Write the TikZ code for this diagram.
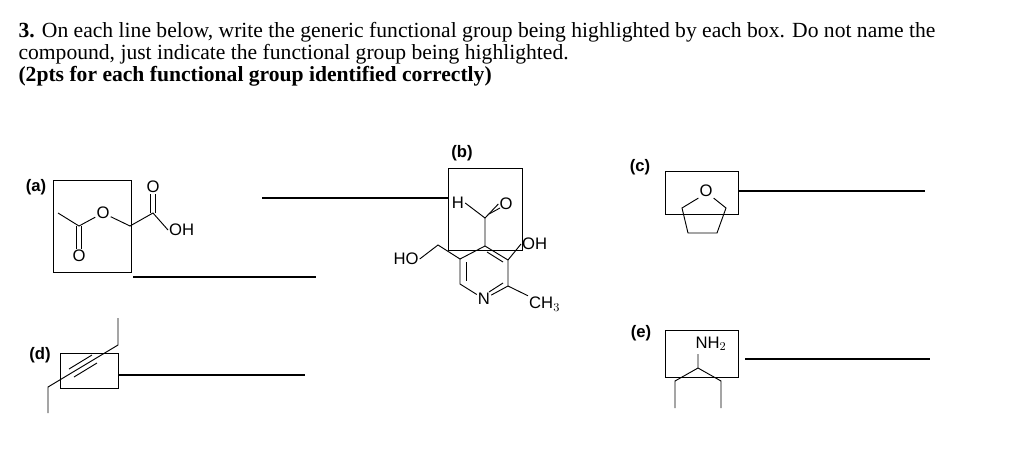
\documentclass[tikz,border=0pt]{standalone}
\usepackage{fontspec}
\setmainfont{Liberation Serif}
\newfontfamily\arialf{Liberation Sans}
\begin{document}
\begin{tikzpicture}[x=0.75pt,y=-0.75pt,line width=0.8pt,
  lbl/.style={font=\arialf\fontsize{12.5}{14}\selectfont\bfseries},
  atom/.style={font=\arialf\fontsize{12.5}{14}\selectfont,inner sep=0.5pt},
  hbox/.style={draw,line width=0.7pt},
  bond/.style={line width=0.7pt}]
\useasboundingbox (0,0) rectangle (1024,465);
\node[anchor=base west,font=\fontsize{16.2}{19}\selectfont,inner sep=0] at (18,37) {\textbf{3.} On each line below, write the generic functional group being highlighted by each box. Do not name the};
\node[anchor=base west,font=\fontsize{16.2}{19}\selectfont,inner sep=0] at (18,59) {compound, just indicate the functional group being highlighted.};
\node[anchor=base west,font=\fontsize{16.2}{19}\selectfont,inner sep=0] at (18,81) {\textbf{(2pts for each functional group identified correctly)}};
% (a)
\node[lbl] (la) at (36,187) {(a)};
\draw[hbox] (53,180) rectangle (131,272);
\coordinate (a1) at (58,213); \coordinate (a2) at (79,226);
\node[atom] (ao1) at (79,256) {O};
\node[atom] (ao2) at (103,213) {O};
\coordinate (a3) at (130,226); \coordinate (a4) at (153,213);
\node[atom] (ao3) at (153,187) {O};
\node[atom,anchor=west] (aoh) at (168,230) {OH};
\draw[bond] (a1)--(a2)--(ao2)--(a3)--(a4)--(aoh.west);
\draw[bond] ([xshift=-2pt]a2)--([xshift=-2pt]ao1.north) ([xshift=2pt]a2)--([xshift=2pt]ao1.north);
\draw[bond] ([xshift=-2pt]a4)--([xshift=-2pt]ao3.south) ([xshift=2pt]a4)--([xshift=2pt]ao3.south);
\draw (133,277)--(316,277);
% (b)
\node[lbl] (lb) at (462,153) {(b)};
\draw[hbox] (448,168) rectangle (522,250);
\draw (262,198)--(448,198);
\node[atom] (bh) at (458,203) {H};
\node[atom] (bo) at (506,204) {O};
\coordinate (bc) at (485,218);
\draw[bond] (bh.east)--(bc)--(bo.west);
\coordinate (r1) at (485,246); \coordinate (r2) at (508,260); \coordinate (r3) at (508,286);
\node[atom] (bn) at (484,299) {N};
\coordinate (r5) at (460,284); \coordinate (r6) at (460,259);
\draw[bond] (bc)--(r1)--(r2)--(r3)--(bn)--(r5)--(r6)--(r1);
\draw[bond] (466,262)--(466,281);
\draw[bond] (487,252)--(503,262);
\draw[bond] (489,292)--(503,283);
\draw[bond] (489,214)--(500,208);
\node[atom,anchor=west] (boh) at (521,244) {OH};
\draw[bond] (r2)--(boh.west);
\node[atom,anchor=west] (bme) at (528,304) {CH$_3$};
\draw[bond] (r3)--(bme.north west);
\coordinate (bch2) at (438,245);
\node[atom] (bho) at (406,259) {HO};
\draw[bond] (bho.east)--(bch2)--(r6);
% (c)
\node[lbl] (lc) at (640,167) {(c)};
\draw[hbox] (665,171) rectangle (738,214);
\node[atom] (co) at (706,191) {O};
\draw[bond] (co.south west)--(682,208)--(688,233)--(717,233)--(726,208)--(co.south east);
\draw (739,191)--(925,191);
% (d)
\node[lbl] (ld) at (40,355) {(d)};
\draw[hbox] (60,353) rectangle (118,388);
\draw[bond] (48,413)--(48,387)--(118,345)--(118,318);
\draw[bond] (69,369)--(92,355) (74,377)--(97,363);
\draw (119,375)--(305,375);
% (e)
\node[lbl] (le) at (641,333) {(e)};
\draw[hbox] (665,330) rectangle (738,377);
\node[atom] (en) at (711,344) {NH$_2$};
\coordinate (e1) at (698,368);
\draw[bond] (698,354)--(e1)--(675,381)--(675,408) (e1)--(721,381)--(721,408);
\draw (745,359)--(930,359);
\end{tikzpicture}
\end{document}
